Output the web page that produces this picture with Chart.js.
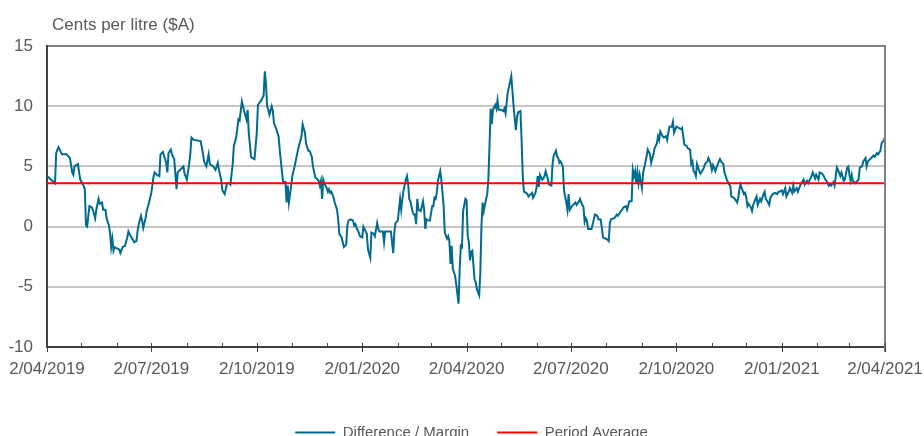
<!DOCTYPE html>
<html>
<head>
<meta charset="utf-8">
<title>Difference / Margin</title>
<script src="https://cdn.jsdelivr.net/npm/chart.js@4.4.1/dist/chart.umd.min.js"></script>
<style>
    html, body { margin: 0; padding: 0; background: #fff; overflow: hidden; }
    #wrap { position: relative; width: 924px; height: 450px; }
</style>
</head>
<body>
<div id="wrap"><canvas id="chart"></canvas></div>
<script>
// days counted from 2 April 2019 (day 0) to 2 April 2021 (day 731)
const days = [
    0, 7, 8, 10, 13, 17, 20, 22, 23, 24, 27, 28, 29, 31, 33, 34, 35, 37, 39, 40,
    42, 43, 45, 46, 48, 49, 51, 52, 54, 55, 56, 57, 58, 59, 61, 63, 64, 66, 68, 70,
    71, 73, 75, 76, 78, 79, 80, 82, 83, 84, 86, 87, 89, 91, 93, 94, 96, 98, 99, 101,
    103, 104, 105, 106, 108, 109, 111, 113, 114, 116, 118, 119, 120, 122, 124, 125, 126, 128, 134, 136,
    137, 139, 141, 142, 145, 147, 149, 150, 152, 153, 155, 157, 159, 160, 162, 163, 165, 167, 168, 170,
    172, 174, 175, 176, 178, 179, 181, 183, 184, 187, 189, 190, 191, 192, 193, 194, 196, 197, 198, 200,
    202, 203, 205, 206, 208, 209, 210, 211, 213, 214, 216, 219, 222, 223, 225, 226, 228, 229, 231, 232,
    234, 237, 238, 239, 240, 241, 242, 244, 245, 246, 247, 248, 250, 251, 253, 254, 255, 257, 258, 259,
    261, 262, 263, 265, 267, 268, 269, 270, 272, 273, 275, 276, 278, 279, 280, 282, 283, 285, 286, 288,
    289, 290, 292, 293, 294, 295, 298, 300, 301, 302, 303, 304, 306, 308, 309, 310, 311, 313, 314, 315,
    316, 317, 319, 320, 321, 322, 323, 324, 326, 328, 329, 330, 331, 333, 334, 336, 337, 338, 339, 340,
    341, 343, 344, 346, 347, 349, 350, 351, 352, 353, 354, 356, 357, 359, 360, 361, 362, 363, 365, 366,
    367, 368, 369, 370, 371, 373, 374, 375, 377, 378, 379, 380, 381, 382, 384, 385, 386, 387, 388, 389,
    391, 392, 393, 394, 396, 398, 399, 400, 402, 403, 405, 406, 407, 409, 410, 411, 413, 414, 415, 416,
    418, 419, 420, 422, 423, 424, 425, 426, 427, 428, 429, 430, 432, 433, 434, 435, 437, 438, 440, 441,
    442, 444, 445, 446, 447, 448, 450, 451, 452, 453, 454, 455, 456, 458, 459, 461, 462, 464, 465, 466,
    468, 469, 470, 471, 472, 474, 475, 477, 478, 480, 481, 483, 484, 485, 487, 488, 490, 491, 492, 495,
    497, 498, 500, 501, 503, 505, 506, 508, 510, 511, 512, 513, 514, 515, 516, 517, 519, 520, 521, 523,
    524, 526, 527, 529, 530, 532, 533, 534, 535, 537, 538, 540, 541, 542, 543, 545, 546, 547, 549, 551,
    553, 554, 555, 556, 558, 559, 561, 562, 563, 564, 565, 566, 567, 569, 570, 572, 573, 574, 576, 577,
    579, 580, 581, 583, 584, 586, 587, 588, 590, 591, 592, 593, 595, 596, 597, 599, 600, 602, 603, 604,
    605, 606, 608, 609, 610, 611, 612, 614, 615, 616, 618, 619, 620, 622, 623, 625, 626, 627, 629, 630,
    631, 633, 635, 637, 638, 639, 641, 642, 644, 645, 647, 648, 650, 651, 652, 654, 655, 657, 658, 660,
    661, 663, 664, 666, 667, 668, 670, 671, 673, 674, 676, 677, 679, 680, 682, 683, 684, 686, 687, 689,
    690, 692, 693, 695, 696, 698, 699, 700, 701, 702, 703, 705, 706, 708, 709, 711, 712, 714, 715, 716,
    718, 719, 721, 722, 724, 725, 727, 728, 730, 731
];

// Difference / Margin, cents per litre
const margin = [
    4.2, 3.6, 6.1, 6.6, 6.0, 6.0, 5.7, 4.5, 4.3, 5.0, 5.2, 4.5, 3.9, 3.6, 3.1, 0.1, 0.0, 1.7, 1.6, 1.4,
    0.7, 1.4, 2.3, 1.9, 2.0, 1.4, 1.4, 0.7, 0.1, -0.5, -1.7, -1.0, -2.0, -1.7, -1.8, -1.9, -2.2, -1.7, -1.6, -0.9,
    -0.4, -0.8, -1.1, -1.3, -1.2, -0.4, 0.2, 0.9, 0.5, -0.1, 0.7, 1.3, 2.0, 2.8, 4.2, 4.5, 4.3, 4.2, 6.0, 6.2,
    5.6, 5.3, 4.5, 6.1, 6.4, 6.0, 5.6, 3.1, 4.5, 4.7, 4.9, 5.0, 4.4, 3.9, 5.2, 6.0, 7.4, 7.2, 7.1, 6.1,
    5.4, 5.0, 6.0, 5.2, 5.0, 4.7, 5.3, 4.7, 3.9, 3.0, 2.7, 3.6, 3.6, 3.5, 5.2, 6.7, 7.4, 8.9, 8.8, 10.4,
    9.6, 8.9, 9.7, 7.8, 5.8, 5.7, 5.6, 7.8, 10.1, 10.5, 10.9, 12.9, 11.9, 10.0, 9.7, 9.3, 10.0, 9.6, 8.6, 8.1,
    7.5, 6.4, 4.5, 3.7, 3.7, 2.0, 3.4, 2.0, 3.4, 4.2, 5.0, 6.4, 7.5, 8.5, 7.8, 6.9, 6.3, 6.3, 5.8, 5.0,
    4.1, 3.8, 3.4, 3.8, 2.3, 3.9, 3.6, 3.2, 2.9, 3.1, 2.8, 2.9, 2.4, 2.0, 1.4, 0.6, -0.6, -0.9, -1.3, -1.7,
    -1.5, 0.1, 0.5, 0.6, 0.5, 0.1, 0.2, -0.1, -0.5, -0.8, -0.9, 0.0, -0.4, -0.6, -1.9, -2.6, -0.5, -0.6, -0.8, 0.3,
    -0.2, -0.4, -0.4, -0.4, -1.3, -0.4, -0.4, -0.4, -1.3, -2.2, -0.5, 0.3, 0.5, 2.3, 1.4, 2.3, 3.0, 3.9, 4.2, 3.6,
    2.3, 2.1, 1.2, 1.0, 1.0, 0.2, 2.3, 1.4, 1.3, 2.1, 1.4, -0.2, 0.6, 0.5, 0.5, 1.7, 1.7, 2.4, 2.3, 2.8,
    3.8, 4.6, 3.9, 1.7, -0.5, -1.0, -0.8, -1.2, -3.1, -1.6, -3.5, -4.1, -4.8, -6.4, -3.5, -1.6, -1.7, 1.3, 2.3, 2.2,
    -0.8, -1.3, -2.8, -2.1, -2.0, -4.4, -4.6, -5.2, -5.7, -3.8, 0.1, 2.0, 1.3, 1.8, 2.7, 3.9, 6.7, 9.8, 8.5, 9.7,
    10.1, 9.8, 10.5, 9.7, 9.7, 9.6, 9.8, 9.4, 11.2, 11.6, 12.5, 11.3, 10.0, 8.0, 9.1, 9.5, 9.6, 7.2, 4.2, 2.9,
    2.8, 2.7, 2.5, 2.7, 2.8, 2.4, 2.6, 2.8, 3.2, 4.2, 3.3, 4.3, 3.9, 4.0, 4.2, 4.6, 3.9, 3.5, 3.4, 5.2,
    5.9, 6.3, 5.8, 5.7, 5.3, 5.4, 5.0, 3.0, 2.5, 2.0, 1.4, 2.7, 1.4, 1.7, 1.8, 2.0, 1.8, 2.1, 2.3, 2.0,
    1.6, 0.4, 0.7, 0.5, -0.2, -0.2, -0.2, 0.6, 1.0, 0.9, 0.6, 0.6, -0.1, -0.9, -1.0, -1.0, -1.2, 0.3, 0.6, 0.7,
    1.0, 0.9, 1.2, 1.3, 1.6, 1.7, 1.4, 2.1, 2.1, 4.7, 4.2, 4.6, 3.6, 4.5, 3.6, 4.3, 3.2, 4.5, 4.9, 5.8,
    6.4, 6.0, 5.3, 6.0, 6.5, 6.9, 7.5, 7.2, 7.9, 7.5, 7.4, 7.5, 7.2, 7.8, 8.3, 8.3, 8.7, 7.8, 8.3, 8.2,
    8.1, 8.2, 7.5, 6.8, 6.7, 6.5, 6.4, 5.2, 5.4, 4.6, 4.5, 4.2, 5.2, 4.6, 4.4, 4.7, 4.9, 5.2, 5.4, 5.7,
    5.2, 4.7, 5.1, 4.6, 4.9, 5.4, 5.6, 5.4, 5.2, 4.5, 4.2, 3.9, 3.5, 3.4, 2.5, 2.4, 2.3, 2.0, 2.4, 3.1,
    3.5, 3.2, 2.7, 2.8, 2.4, 1.7, 1.9, 1.6, 1.3, 1.8, 2.3, 2.5, 1.8, 2.3, 2.1, 2.7, 2.9, 2.3, 2.0, 1.8,
    2.4, 2.7, 2.8, 2.7, 2.9, 2.9, 3.0, 2.7, 3.2, 2.5, 2.9, 3.2, 2.8, 3.4, 2.9, 3.2, 2.9, 3.4, 3.6, 3.9,
    3.5, 3.8, 3.6, 4.0, 4.2, 4.5, 4.0, 4.3, 3.9, 4.5, 4.4, 4.3, 3.9, 3.8, 3.4, 3.5, 3.4, 3.7, 3.4, 4.9,
    4.7, 4.2, 4.5, 3.8, 3.9, 4.9, 5.0, 4.3, 3.8, 4.3, 3.8, 3.6, 3.7, 3.9, 4.9, 5.0, 5.4, 5.7, 5.0, 5.4,
    5.6, 5.7, 5.9, 5.8, 6.1, 6.0, 6.3, 6.9, 7.2, 7.4
];

const periodAverage = 3.6;

// x axis labels sit on these days
const tickDays   = [0, 91, 183, 275, 366, 457, 549, 641, 731];
const tickLabels = ['2/04/2019', '2/07/2019', '2/10/2019', '2/01/2020', '2/04/2020',
                    '2/07/2020', '2/10/2020', '2/01/2021', '2/04/2021'];

const FONT = "'Liberation Sans', Arial, sans-serif";
const TEXT = '#595959';
const AXIS = '#404040';
const BLUE = '#006a8f';
const RED  = '#ff0000';

// small month ticks (2nd of each month)
const start = Date.UTC(2019, 3, 2);
const monthDays = [];
for (let m = 0; m <= 24; m++) {
    monthDays.push(Math.round((Date.UTC(2019, 3 + m, 2) - start) / 86400000));
}

const frame = {
    id: 'frame',
    afterLayout(chart) {
        // nudge legend to sit under the middle of the plot like the original
        chart.legend.left += 29;
        chart.legend.right += 29;
    },
    afterDatasetsDraw(chart) {
        const { ctx, chartArea: a, scales: { x } } = chart;
        ctx.save();
        // right border
        ctx.strokeStyle = '#808080';
        ctx.lineWidth = 2;
        ctx.beginPath();
        ctx.moveTo(a.right, a.top - 1);
        ctx.lineTo(a.right, a.bottom + 5);
        ctx.stroke();
        // tick marks
        ctx.strokeStyle = AXIS;
        ctx.lineWidth = 1;
        monthDays.forEach(d => {
            const px = Math.round(x.getPixelForValue(d)) + 0.5;
            const major = tickDays.includes(d);
            ctx.beginPath();
            ctx.moveTo(px, a.bottom - 4);
            ctx.lineTo(px, major ? a.bottom + 5 : a.bottom);
            ctx.stroke();
        });
        // unit label
        ctx.fillStyle = TEXT;
        ctx.font = '17px ' + FONT;
        ctx.textBaseline = 'alphabetic';
        ctx.fillText('Cents per litre ($A)', a.left + 5, 30);
        ctx.restore();
    }
};

new Chart(document.getElementById('chart'), {
    type: 'line',
    data: {
        datasets: [
            {
                label: 'Difference / Margin',
                data: days.map((d, i) => ({ x: d, y: margin[i] })),
                borderColor: BLUE,
                backgroundColor: BLUE,
                borderWidth: 2,
                pointRadius: 0,
                tension: 0,
                order: 1,
            },
            {
                label: 'Period Average',
                data: [{ x: 0, y: periodAverage }, { x: 731, y: periodAverage }],
                borderColor: RED,
                backgroundColor: RED,
                borderWidth: 2,
                pointRadius: 0,
                order: 0,
            },
        ],
    },
    options: {
        responsive: true,
        maintainAspectRatio: false,
        animation: false,
        parsing: false,
        layout: { padding: { top: 46, right: 39, left: 0, bottom: 0 } },
        scales: {
            x: {
                type: 'linear',
                min: 0,
                max: 731,
                afterBuildTicks: s => { s.ticks = tickDays.map(v => ({ value: v })); },
                afterFit: s => { s.height = 50; },
                ticks: {
                    autoSkip: false,
                    maxRotation: 0,
                    padding: 0,
                    color: TEXT,
                    font: { family: FONT, size: 17 },
                    callback: v => tickLabels[tickDays.indexOf(v)] || '',
                },
                // invisible tick marks just to push labels down; real ticks drawn by plugin
                grid: { display: true, drawOnChartArea: false, drawTicks: true, tickLength: 12, tickColor: 'rgba(0,0,0,0)' },
                border: { display: true, color: AXIS, width: 2 },
            },
            y: {
                min: -10,
                max: 15,
                afterFit: s => { s.width = 47; },
                ticks: {
                    stepSize: 5,
                    padding: 14,
                    color: TEXT,
                    font: { family: FONT, size: 17 },
                },
                grid: {
                    drawTicks: false,
                    lineWidth: 2,
                    color: c => c.tick && c.tick.value === 15 ? '#808080'
                              : c.tick && c.tick.value === -10 ? 'rgba(0,0,0,0)' : '#c6c6c6',
                },
                border: { display: true, color: AXIS, width: 2 },
            },
        },
        plugins: {
            legend: {
                position: 'bottom',
                labels: {
                    color: TEXT,
                    font: { family: FONT, size: 15 },
                    boxWidth: 40,
                    boxHeight: 2,
                    padding: 28,
                    sort: (a, b) => a.datasetIndex - b.datasetIndex,
                    generateLabels: chart => Chart.defaults.plugins.legend.labels
                        .generateLabels(chart).map(l => ({ ...l, lineWidth: 0, fillStyle: l.strokeStyle })),
                },
            },
            tooltip: { enabled: false },
        },
    },
    plugins: [frame],
});
</script>
</body>
</html>
